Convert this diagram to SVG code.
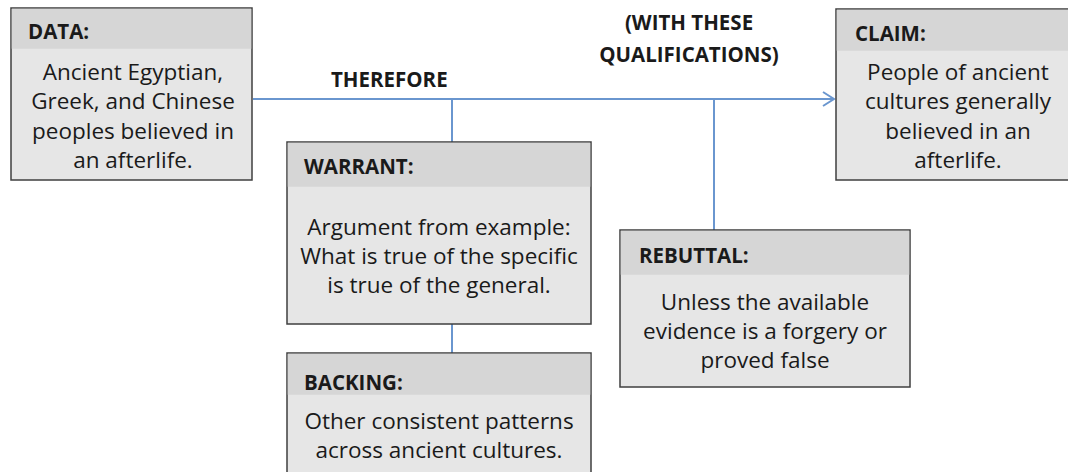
<svg xmlns="http://www.w3.org/2000/svg" width="1068" height="472" viewBox="0 0 1068 472">
<defs>
<style>
.box{fill:#e6e6e6;stroke:#3f3f3f;stroke-width:1.5}
.hdr{fill:#d6d6d6}
.h{font-family:"Open Sans","Liberation Sans",sans-serif;font-weight:bold;font-size:20.5px;fill:#1a1a1a}
.t{font-family:"Open Sans","Liberation Sans",sans-serif;font-size:22.5px;fill:#1a1a1a;text-anchor:middle}
.lbl{font-family:"Open Sans","Liberation Sans",sans-serif;font-weight:bold;font-size:20.5px;fill:#1a1a1a}
.c{fill:none;stroke:#6a96cf;stroke-width:2}
</style>
<marker id="arr" markerWidth="14" markerHeight="16" refX="12" refY="8" orient="auto" markerUnits="userSpaceOnUse">
<path d="M1,1 L12,8 L1,15" fill="none" stroke="#6a96cf" stroke-width="2"/>
</marker>
</defs>
<rect width="1068" height="472" fill="#ffffff"/>
<g id="connectors">
<line class="c" x1="253" y1="99" x2="834" y2="99" marker-end="url(#arr)"/>
<line class="c" x1="452" y1="99" x2="452" y2="142"/>
<line class="c" x1="714" y1="99" x2="714" y2="230"/>
<line class="c" x1="452" y1="324" x2="452" y2="353"/>
</g>
<g id="labels">
<text class="lbl" x="331" y="87">THEREFORE</text>
<text class="lbl" x="689" y="30" text-anchor="middle">(WITH THESE</text>
<text class="lbl" x="689" y="62" text-anchor="middle">QUALIFICATIONS)</text>
</g>
<g id="data">
<rect class="box" x="11" y="8" width="241" height="172"/>
<rect class="hdr" x="11.75" y="8.75" width="239.5" height="40"/>
<text class="h" x="28" y="39">DATA:</text>
<text class="t" x="133" y="80">Ancient Egyptian,</text>
<text class="t" x="133" y="109">Greek, and Chinese</text>
<text class="t" x="133" y="139">peoples believed in</text>
<text class="t" x="133" y="168">an afterlife.</text>
</g>
<g id="claim">
<rect class="box" x="836" y="9" width="240" height="171"/>
<rect class="hdr" x="836.75" y="9.75" width="238" height="41"/>
<text class="h" x="855" y="41">CLAIM:</text>
<text class="t" x="958" y="80">People of ancient</text>
<text class="t" x="958" y="109">cultures generally</text>
<text class="t" x="958" y="139">believed in an</text>
<text class="t" x="958" y="168">afterlife.</text>
</g>
<g id="warrant">
<rect class="box" x="287" y="142" width="304" height="182"/>
<rect class="hdr" x="287.75" y="142.75" width="302.5" height="44"/>
<text class="h" x="304" y="174">WARRANT:</text>
<text class="t" x="439" y="235">Argument from example:</text>
<text class="t" x="439" y="264">What is true of the specific</text>
<text class="t" x="439" y="293">is true of the general.</text>
</g>
<g id="rebuttal">
<rect class="box" x="620" y="230" width="290" height="157"/>
<rect class="hdr" x="620.75" y="230.75" width="288.5" height="44"/>
<text class="h" x="639" y="263">REBUTTAL:</text>
<text class="t" x="765" y="310">Unless the available</text>
<text class="t" x="765" y="339">evidence is a forgery or</text>
<text class="t" x="765" y="368">proved false</text>
</g>
<g id="backing">
<rect class="box" x="287" y="353" width="304" height="130"/>
<rect class="hdr" x="287.75" y="353.75" width="302.5" height="41"/>
<text class="h" x="304" y="390">BACKING:</text>
<text class="t" x="439" y="429">Other consistent patterns</text>
<text class="t" x="439" y="458">across ancient cultures.</text>
</g>
</svg>
